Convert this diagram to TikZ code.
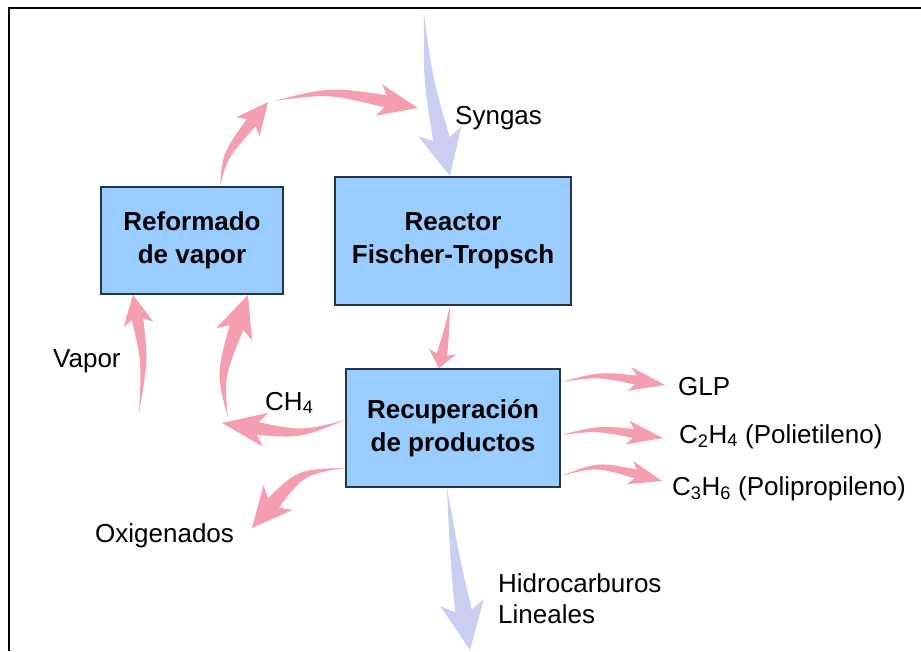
\documentclass[tikz,border=0pt]{standalone}
\usepackage{fontspec}
\setmainfont{Liberation Sans}
\usepackage{tikz}
\usetikzlibrary{calc,positioning}

\definecolor{rosa}{RGB}{244,158,176}
\definecolor{lavanda}{RGB}{202,206,240}
\definecolor{celeste}{RGB}{153,204,255}
\definecolor{borde}{RGB}{40,52,66}

\newcommand{\flecha}[6]{%
  \pgfmathsetlengthmacro{\cuerpo}{0.42*#2}%
  \pgfmathsetlengthmacro{\curva}{0.22*#2}%
  \pgfmathsetlengthmacro{\fin}{0.55*#3}%
  \pgfmathsetlengthmacro{\muesca}{0.72*#3}%
  \path ($(#6)!#3!(#5)$) coordinate (fl-base) ($(#6)!\fin!(#5)$) coordinate (fl-cola);
  \fill[#1] (#4) .. controls ($(#5)!\curva!-90:(fl-cola)$) .. ($(fl-cola)!\cuerpo!90:(#5)$)
    -- ($(fl-cola)!\cuerpo!-90:(#5)$) .. controls ($(#5)!\curva!90:(fl-cola)$) .. (#4) -- cycle;
  \fill[#1] (#6) -- ($(fl-base)!#2!90:(#5)$) -- ($(#6)!\muesca!(#5)$) -- ($(fl-base)!#2!-90:(#5)$) -- cycle;
}

\begin{document}
\begin{tikzpicture}[x=1pt,y=-1pt]
\tikzstyle{caja}=[draw=borde,line width=1.6pt,fill=celeste,inner sep=0pt,align=center,font=\bfseries\fontsize{26}{33}\selectfont]
\tikzstyle{etiqueta}=[inner sep=0pt,anchor=base west,font=\fontsize{26}{31}\selectfont]
\tikzstyle{rosado}=[fill=rosa]
\tikzstyle{lila}=[fill=lavanda]

\useasboundingbox (0,0) rectangle (921,651);
\draw[line width=2pt] (9,651) -- (9,8) -- (921,8);

\node[caja,minimum width=182pt,minimum height=107pt] (reformado) at (192,240.5) {Reformado\\de vapor};
\node[caja,minimum width=236pt,minimum height=128pt] (reactor) at (453,241) {Reactor\\Fischer-Tropsch};
\node[caja,minimum width=214pt,minimum height=118pt] (recup) at (453,428) {Recuperación\\de productos};

\node[etiqueta] (syngas) at (455,124) {Syngas};
\node[etiqueta] (vapor) at (53,367) {Vapor};
\node[etiqueta] (ch4) at (265,410) {CH\textsubscript{4}};
\node[etiqueta] (oxi) at (95,542) {Oxigenados};
\node[etiqueta] (glp) at (678,395) {GLP};
\node[etiqueta] (etileno) at (679,443) {C\textsubscript{2}H\textsubscript{4} (Polietileno)};
\node[etiqueta] (propileno) at (672,495) {C\textsubscript{3}H\textsubscript{6} (Polipropileno)};
\node[etiqueta,align=left] (hidro) at (498,623) {Hidrocarburos\\Lineales};

\coordinate (syn-ini) at (424,14);
\coordinate (syn-fin) at ([xshift=-3]reactor.north);
\coordinate (ref-sal) at ([xshift=28]reformado.north);
\coordinate (arco-a) at (268,102);
\coordinate (arco-b) at (274,101);
\coordinate (arco-c) at (418,108);
\coordinate (rea-sal) at ([xshift=-3]reactor.south);
\coordinate (rec-ent) at ([xshift=-14]recup.north);
\coordinate (vap-ini) at (139,413);
\coordinate (vap-fin) at ([xshift=-59]reformado.south);
\coordinate (ch4-codo) at (228,418);
\coordinate (ch4-sube) at ([xshift=56]reformado.south);
\coordinate (ch4-sal) at ([yshift=8]recup.west);
\coordinate (ch4-fin) at (222,423);
\coordinate (oxi-sal) at ([yshift=-40]recup.west);
\coordinate (oxi-fin) at (252,528);
\coordinate (glp-sal) at ([yshift=46]recup.east);
\coordinate (glp-fin) at (665,385);
\coordinate (eti-sal) at ([yshift=-7]recup.east);
\coordinate (eti-fin) at (663,438);
\coordinate (pro-sal) at ([yshift=-48]recup.east);
\coordinate (pro-fin) at (662,481);
\coordinate (hid-sal) at ([xshift=-6]recup.south);
\coordinate (hid-fin) at (470,650);

\flecha{lila}{22pt}{46pt}{syn-ini}{428,80}{syn-fin}
\flecha{rosado}{15pt}{32pt}{ref-sal}{225,155}{arco-a}
\flecha{rosado}{16pt}{40pt}{arco-b}{330,90}{arco-c}
\flecha{rosado}{14pt}{17pt}{rea-sal}{446,335}{rec-ent}
\flecha{rosado}{15pt}{30pt}{vap-ini}{145,360}{vap-fin}
\flecha{rosado}{19pt}{42pt}{ch4-codo}{220,375}{ch4-sube}
\flecha{rosado}{17pt}{44pt}{ch4-sal}{300,435}{ch4-fin}
\flecha{rosado}{19pt}{40pt}{oxi-sal}{300,472}{oxi-fin}
\flecha{rosado}{12pt}{36pt}{glp-sal}{600,374}{glp-fin}
\flecha{rosado}{12pt}{36pt}{eti-sal}{598,428}{eti-fin}
\flecha{rosado}{12pt}{33pt}{pro-sal}{598,464}{pro-fin}
\flecha{lila}{22pt}{48pt}{hid-sal}{455,560}{hid-fin}
\end{tikzpicture}
\end{document}
